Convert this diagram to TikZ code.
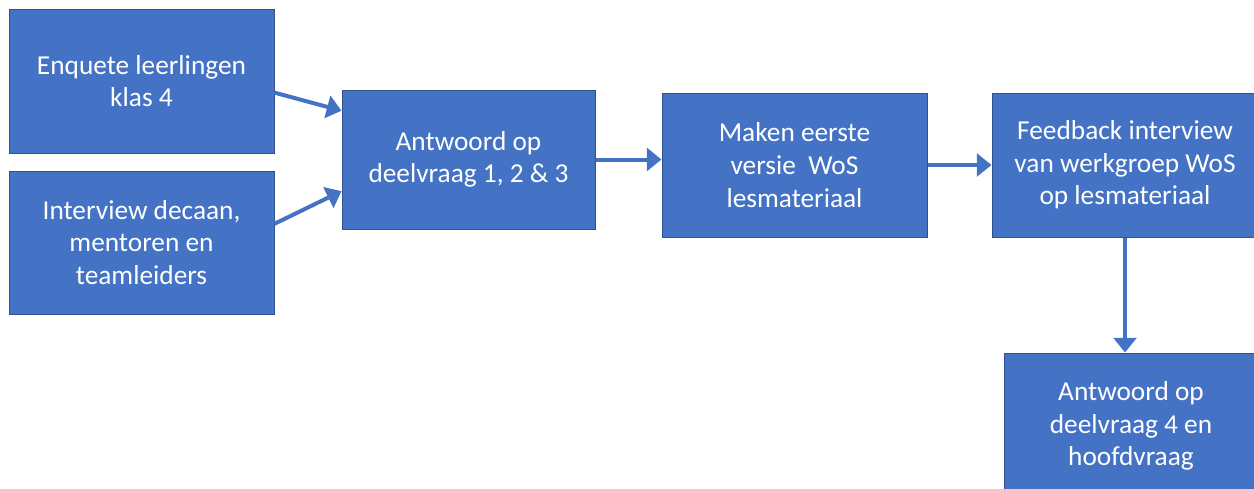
\documentclass[tikz,border=0pt]{standalone}
\usepackage{fontspec}
\setmainfont{Carlito}
\usetikzlibrary{arrows.meta}
\definecolor{stapblauw}{HTML}{4472C4}
\definecolor{randblauw}{HTML}{2F528F}

\begin{document}
\begin{tikzpicture}[x=0.75pt, y=-0.75pt,
    stap/.style={draw=randblauw, line width=0.75pt, fill=stapblauw, text=white,
        align=center, inner sep=0pt, font=\fontsize{20.5}{24.5}\selectfont},
    pijl/.style={draw=stapblauw, line width=3pt, -{Triangle[length=11pt,width=17pt]}}]
        \useasboundingbox (0,0) rectangle (1254,489);
        \node[stap, minimum width=198.75pt, minimum height=108pt] (enquete) at (141.5,81) {Enquete leerlingen\\klas 4};
        \node[stap, minimum width=198.75pt, minimum height=107.25pt] (interview) at (141.5,242.5) {Interview decaan,\\mentoren en\\teamleiders};
        \node[stap, minimum width=189.75pt, minimum height=104.25pt] (antwoord) at (468.5,159.5) {Antwoord op\\deelvraag 1, 2 \& 3};
        \node[stap, minimum width=198.75pt, minimum height=108pt] (versie) at (794.5,165) {Maken eerste\\versie~ WoS\\lesmateriaal};
        \node[stap, minimum width=199.5pt, minimum height=108pt] (feedback) at (1125,165) {Feedback interview\\van werkgroep WoS\\op lesmateriaal};
        \node[stap, minimum width=190.5pt, minimum height=109.5pt] (hoofdvraag) at (1131,426) {Antwoord op\\deelvraag 4 en\\hoofdvraag};
        \draw[pijl] (enquete.-5) -- (antwoord.159);
        \draw[pijl] (interview.8) -- (antwoord.194);
        \draw[pijl] (antwoord.east) -- (antwoord.east -| versie.west);
        \draw[pijl] (versie.east) -- (feedback.west);
        \draw[pijl] (feedback.south) -- (feedback.south |- hoofdvraag.north);
    \end{tikzpicture}
\end{document}
